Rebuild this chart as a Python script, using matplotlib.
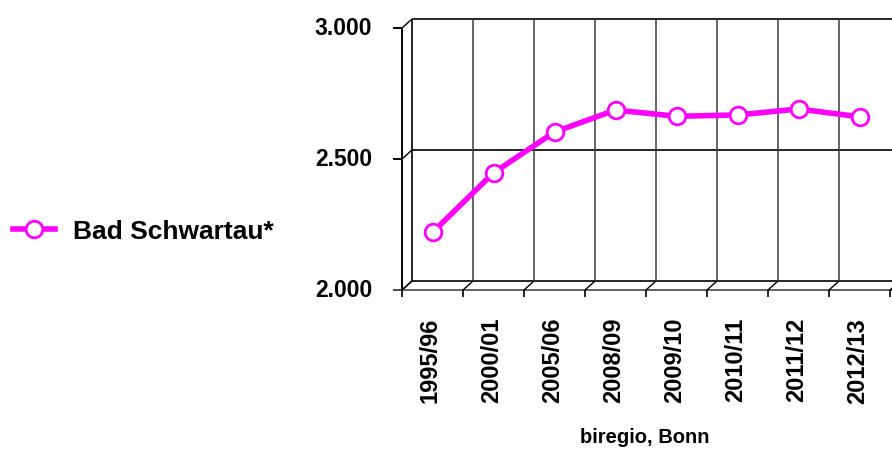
import matplotlib.pyplot as plt
from matplotlib.lines import Line2D

# values
seasons = ['1995/96', '2000/01', '2005/06', '2008/09',
           '2009/10', '2010/11', '2011/12', '2012/13']
students = [2220, 2447, 2603, 2687, 2663, 2668, 2691, 2661]
y_ticks = [2000, 2500, 3000]
y_tick_labels = ['2.000', '2.500', '3.000']
series_name = 'Bad Schwartau*'
source = 'biregio, Bonn'

plt.rcParams['font.family'] = ['Liberation Sans', 'DejaVu Sans']
plt.rcParams['font.weight'] = 'bold'

W, H = 892, 452
fig = plt.figure(figsize=(W / 100, H / 100), dpi=100)
# front plane of the pseudo 3d chart
ax = fig.add_axes([402 / W, 161 / H, 488 / W, 262 / H])
n = len(seasons)
ax.set_xlim(0, n)
ax.set_ylim(2000, 3000)
ax.axis('off')

px_x = n / 488          # data units per pixel, x
px_y = 1000 / 262       # data units per pixel, y
dx, dy = 10 * px_x, 9 * px_y   # depth offset of back wall

def seg(x, y, **kw):
    kw.setdefault('color', 'black')
    kw.setdefault('lw', 1.2)
    ax.add_line(Line2D(x, y, clip_on=False, solid_capstyle='butt', **kw))

# back wall
right = n + 1
for yv in y_ticks:
    seg([dx, right], [yv + dy, yv + dy])
seg([dx, dx], [2000 + dy, 3000 + dy])
for k in range(1, n):
    seg([k + dx, k + dx], [2000 + dy, 3000 + dy], color='#3a3a3a', lw=1.1)

# front y axis with ticks and depth diagonals
seg([0, 0], [2000, 3000], lw=1.4)
for yv, lab in zip(y_ticks, y_tick_labels):
    seg([-9 * px_x, 0], [yv, yv], lw=1.4)
    seg([0, dx], [yv, yv + dy], lw=1.0)
    ax.text(-30 * px_x, yv, lab, ha='right', va='center',
            fontsize=16.5, fontweight='bold')

# floor front edge and category ticks
seg([-9 * px_x, right], [2000, 2000], color='#555555', lw=1.3)
for k in range(n + 1):
    seg([k, k], [2000 - 7 * px_y, 2000], lw=1.2)
    seg([k, k + dx], [2000, 2000 + dy], lw=1.0)

xs = [i + 0.5 for i in range(n)]
for x, lab in zip(xs, seasons):
    ax.text(x - 2 * px_x, 2000 - 27 * px_y, lab, rotation=90, ha='center',
            va='top', fontsize=17, fontweight='bold')

ax.plot(xs, students, color='#ff00ff', lw=4.0, marker='o', ms=12,
        mfc='white', mec='#ff00ff', mew=2.0, clip_on=False,
        label=series_name, zorder=5)

ax.legend(loc='center left', bbox_to_anchor=(13 / W, 1 - 232 / H),
          bbox_transform=fig.transFigure, frameon=False,
          handlelength=1.6, handletextpad=0.68, borderpad=0,
          borderaxespad=0, prop={'weight': 'bold', 'size': 19})

fig.text(645 / W, 1 - 438 / H, source, ha='center', va='center',
         fontsize=14.5, fontweight='bold')

fig.savefig('out.png', dpi=100)
